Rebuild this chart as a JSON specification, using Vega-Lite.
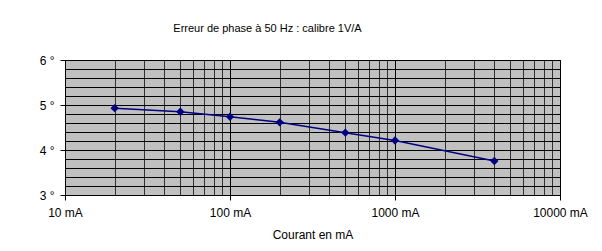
{
  "$schema": "https://vega.github.io/schema/vega-lite/v6.json",
  "width": 495,
  "height": 135,
  "autosize": {"type": "none"},
  "padding": {"left": 65, "top": 60, "right": 42, "bottom": 56},
  "background": "white",
  "config": {
    "view": {"fill": "#c0c0c0", "stroke": "#000000", "strokeWidth": 1},
    "font": "Liberation Sans",
    "axis": {"labelFont": "Liberation Sans", "titleFont": "Liberation Sans", "labelColor": "#000000", "titleColor": "#000000", "titleFontWeight": "normal"}
  },
  "title": {"text": "Erreur de phase à 50 Hz : calibre 1V/A", "fontSize": 11, "fontWeight": "normal", "font": "Liberation Sans", "color": "#000000", "offset": 20, "dx": -45},
  "data": {"values": [
    {"courant": 20, "phase": 4.93},
    {"courant": 50, "phase": 4.85},
    {"courant": 100, "phase": 4.74},
    {"courant": 200, "phase": 4.615},
    {"courant": 500, "phase": 4.385},
    {"courant": 1000, "phase": 4.21},
    {"courant": 4000, "phase": 3.756}
  ]},
  "encoding": {
    "x": {
      "field": "courant", "type": "quantitative",
      "scale": {"type": "log", "domain": [10, 10000], "nice": false},
      "axis": {
        "title": "Courant en mA", "titleFontSize": 12, "titlePadding": 11,
        "values": [10,20,30,40,50,60,70,80,90,100,200,300,400,500,600,700,800,900,1000,2000,3000,4000,5000,6000,7000,8000,9000,10000],
        "labelExpr": "indexof([10,100,1000,10000], datum.value) >= 0 ? datum.value + ' mA' : ''",
        "labelFontSize": 12, "labelPadding": 7, "labelOverlap": false, "labelFlush": false,
        "grid": true,
        "gridColor": {"condition": {"test": "indexof([10,100,1000,10000], datum.value) >= 0", "value": "#000000"}, "value": "#303030"},
        "gridOpacity": 1, "gridWidth": 1,
        "tickColor": "#000000", "tickSize": 5,
        "tickOpacity": {"condition": {"test": "indexof([10,100,1000,10000], datum.value) >= 0", "value": 1}, "value": 0},
        "domainColor": "#000000"
      }
    },
    "y": {
      "field": "phase", "type": "quantitative",
      "scale": {"domain": [3, 6], "nice": false, "zero": false},
      "axis": {
        "title": null,
        "values": [3,3.2,3.4,3.6,3.8,4,4.2,4.4,4.6,4.8,5,5.2,5.4,5.6,5.8,6],
        "labelExpr": "abs(datum.value - round(datum.value)) < 0.01 ? round(datum.value) + ' °' : ''",
        "labelFontSize": 12, "labelPadding": 6, "labelOverlap": false, "labelFlush": false,
        "grid": true, "gridColor": "#000000", "gridOpacity": 1, "gridWidth": 1,
        "tickColor": "#000000", "tickSize": 5,
        "tickOpacity": {"condition": {"test": "abs(datum.value - round(datum.value)) < 0.01", "value": 1}, "value": 0},
        "domainColor": "#000000"
      }
    }
  },
  "layer": [
    {"mark": {"type": "line", "color": "#000080", "strokeWidth": 1.5}},
    {"mark": {"type": "point", "shape": "diamond", "filled": true, "color": "#000080", "size": 70, "opacity": 1}}
  ]
}
